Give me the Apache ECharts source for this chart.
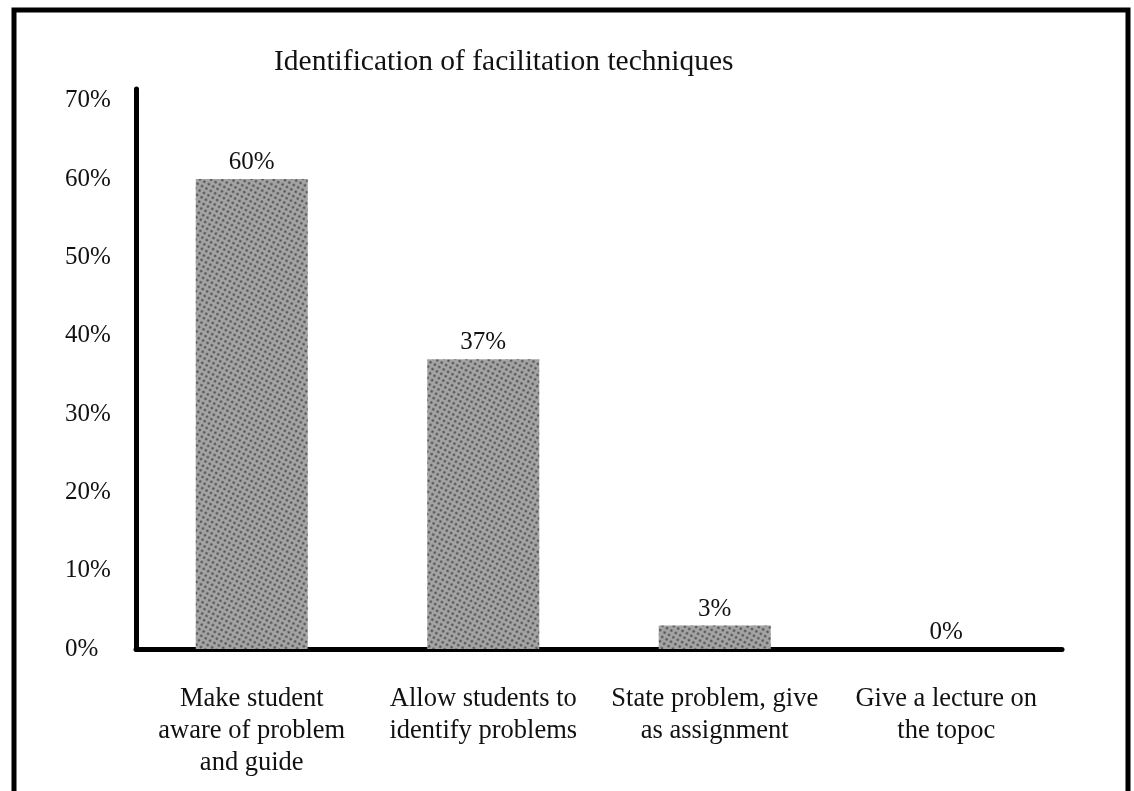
<!DOCTYPE html>
<html>
<head>
<meta charset="utf-8">
<script src="https://cdn.jsdelivr.net/npm/echarts@6/dist/echarts.min.js"></script>
<style>
html,body{margin:0;padding:0;background:#fff;}
#chart{width:1134px;height:791px;}
</style>
</head>
<body>
<div id="chart"></div>
<script>
const titleText = 'Identification of facilitation techniques';
const categories = [
  'Make student\naware of problem\nand guide',
  'Allow students to\nidentify problems',
  'State problem, give\nas assignment',
  'Give a lecture on\nthe topoc'
];
const values = [60, 37, 3, 0];
const yTicks = [0, 10, 20, 30, 40, 50, 60, 70];

const FONT = '"Liberation Serif", "DejaVu Serif", serif';
const chart = echarts.init(document.getElementById('chart'), null, {renderer: 'canvas'});
chart.setOption({
  backgroundColor: '#fff',
  animation: false,
  title: {
    text: titleText,
    left: 269,
    top: 42,
    textStyle: {fontFamily: FONT, fontSize: 29.5, fontWeight: 'normal', color: '#111'}
  },
  graphic: [{
    type: 'rect',
    shape: {x: 14, y: 10, width: 1114, height: 800},
    style: {fill: 'none', stroke: '#000', lineWidth: 5}
  }],
  grid: {left: 136, right: 72, top: 89, bottom: 142, containLabel: false},
  xAxis: {
    type: 'category',
    data: categories,
    axisLine: {show: true, lineStyle: {color: '#000', width: 5}},
    axisTick: {show: false},
    axisLabel: {
      interval: 0,
      margin: 34,
      fontFamily: FONT,
      fontSize: 26.5,
      lineHeight: 32,
      color: '#111'
    },
    splitLine: {show: false}
  },
  yAxis: {
    type: 'value',
    min: 0,
    max: 71.5,
    interval: 10,
    axisLine: {show: true, lineStyle: {color: '#000', width: 5}},
    axisTick: {show: false},
    splitLine: {show: false},
    axisLabel: {
      margin: 71,
      align: 'left',
      verticalAlign: 'middle',
      padding: [0, 0, 10, 0],
      fontFamily: FONT,
      fontSize: 25,
      color: '#111',
      showMaxLabel: false,
      formatter: function (v) { return yTicks.indexOf(v) >= 0 ? v + '%' : ''; }
    }
  },
  series: [{
    type: 'bar',
    data: values,
    barWidth: 112,
    itemStyle: {
      color: '#a4a4a4',
      decal: {
        symbol: 'circle',
        symbolSize: 0.8,
        color: 'rgba(0,0,0,0.55)',
        dashArrayX: [3, 2],
        dashArrayY: [3, 2],
        rotation: 0.5
      }
    },
    label: {
      show: true,
      position: 'top',
      distance: 4,
      fontFamily: FONT,
      fontSize: 25,
      color: '#111',
      formatter: '{c}%'
    }
  }]
});
</script>
</body>
</html>
